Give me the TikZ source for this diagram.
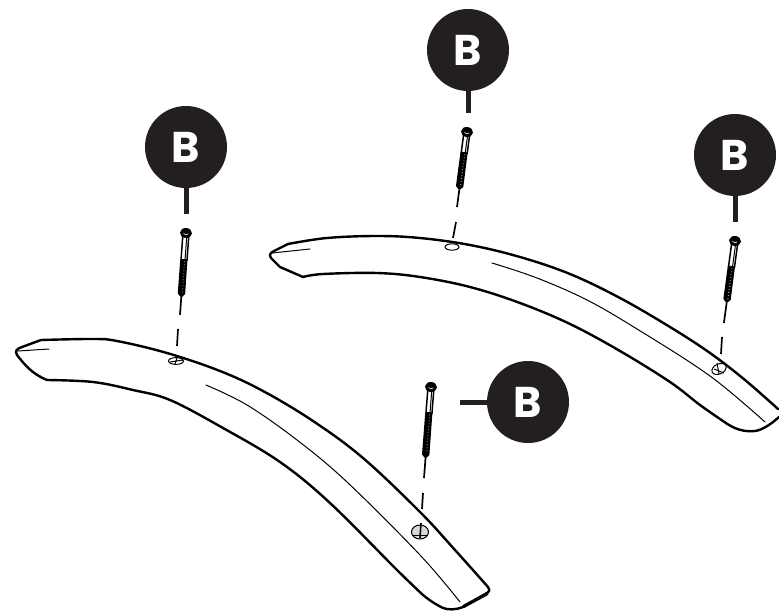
\documentclass[tikz,border=0pt]{standalone}
\usepackage{fontspec}
\newfontfamily\labelfont{Poppins}
\definecolor{ink}{HTML}{231F20}
\tikzset{
  x=1pt,y=-1pt,
  badge/.style={circle,fill=ink,minimum size=82pt,inner sep=0pt,text=white,font=\labelfont\fontsize{43}{43}\selectfont\bfseries},
  stub/.style={ink,line width=5pt},
  outline/.style={black,line width=2.4pt,line join=round,line cap=round},
  thinline/.style={black,line width=1pt,line cap=round},
  guide/.style={black,line width=1.7pt},
  holeline/.style={black,line width=1pt},
}
% #1 head x, #2 head y, #3 length, #4 rotation, #5 thread start, #6 thread end
\newcommand{\screwshape}[6]{%
  \begin{scope}[shift={(#1,#2)},rotate=#4]
    \draw[black,line width=1.5pt,fill=white] (-3,3) -- (-3,#5) -- (3,#5) -- (3,3) -- cycle;
    \draw[black,line width=1pt] (1,4) -- (1,#5);
    \fill[black] (-3.8,#5) -- (3.4,#5) -- (3.6,#6-3) -- (0.8,#6) -- (-0.8,#6) -- (-3.8,#6-3) -- cycle;
    \foreach \yy in {2,5,...,38}{\ifdim\dimexpr#5pt+\yy pt\relax<\dimexpr#6pt-3pt\relax
      \draw[white,line width=0.5pt] (0.2,#5+\yy) -- (1.2,#5+\yy);\fi}
    \draw[black,line width=1.7pt] (0,#6) -- (0,#3);
    \fill[black] (0,0) ellipse (6 and 5);
    \draw[white,line width=0.6pt] (-2.4,0.6) .. controls (-1,2.4) and (1,2.4) .. (2.4,0.6);
  \end{scope}}
\begin{document}
\begin{tikzpicture}
\useasboundingbox (0,0) rectangle (779,613);
% back rail
\draw[outline] plot[smooth,tension=0.6] coordinates {(288,244) (327,238) (377,236) (420,238) (470,245) (520,257) (570,274) (620,298) (670,327) (710,353) (745,380) (778,409)};
\draw[outline] (288,244) -- (274,251) .. controls (270,253) and (269,255) .. (271,258) -- (280,267) -- (303,277);
\draw[outline] plot[smooth,tension=0.6] coordinates {(303,277) (323,274) (377,273) (420,277) (470,287) (520,303) (570,324) (620,351) (670,382) (700,405) (723,421)};
\draw[outline] (723,421) .. controls (735,430) and (745,432) .. (755,431) .. controls (762,430) and (770,425) .. (779,417);
\draw[thinline] (272,253) -- (310,249);
\draw[thinline] plot[smooth,tension=0.6] coordinates {(492,263) (537,278) (587,300) (637,329) (710,376) (765,422)};
% front rail
\draw[outline] plot[smooth,tension=0.6] coordinates {(41,340) (93,339) (117,341) (167,353) (220,371) (263,391) (313,421) (363,458) (420,512) (455,550) (488,587)};
\draw[outline] (488,587) .. controls (490,589) and (490,591) .. (487,593) -- (463,607) .. controls (455,610) and (449,610) .. (443,608) .. controls (435,604) and (429,600) .. (423,595);
\draw[outline] plot[smooth,tension=0.6] coordinates {(423,595) (397,570) (330,503) (280,462) (223,428) (170,400) (133,390) (93,382) (47,380)};
\draw[outline] (41,340) -- (22,347) .. controls (16,349) and (15,351) .. (17,355) .. controls (24,364) and (32,374) .. (47,380);
\draw[thinline] (18,351) -- (49,349);
\draw[thinline] plot[smooth,tension=0.6] coordinates {(206,385) (247,405) (297,440) (347,482) (420,555) (460,602)};
\draw[thinline] (463,605.5) -- (487,592.5);
\draw[thinline] (464,607.5) -- (488,594.5);
% holes
\draw[holeline,fill=white] (176,361) ellipse (7.5 and 3.4);
\draw[holeline] (170,362) -- (183,360) (177,358) -- (175,364);
\draw[holeline,fill=white] (452,247) ellipse (7 and 3.2);
\draw[holeline,fill=white,rotate around={25:(719,369)}] (719,369) ellipse (7.5 and 5);
\draw[holeline] (717,363) -- (719,374) (714,369) -- (724,373);
\draw[holeline,fill=white!85!black] (420,532) ellipse (8.5 and 7);
\draw[black,line width=1.6pt] (421,523) -- (420,538);
\draw[holeline] (413,535) -- (428,535);
% screws
\screwshape{186}{233}{82}{-4.2}{27}{64}
\screwshape{467}{132}{75.7}{-7.6}{21}{58}
\screwshape{735}{241}{82.7}{-7.7}{26}{62}
\screwshape{431}{387}{91.3}{-4.4}{26}{71}
% guide dashes
\coordinate (g1a) at (178,329); \coordinate (g1b) at (177,346);
\coordinate (g2a) at (456,222); \coordinate (g2b) at (453,238);
\coordinate (g3a) at (722,337); \coordinate (g3b) at (721,354);
\coordinate (g4a) at (423,493); \coordinate (g4b) at (422,509);
\draw[guide] (g1a) -- (g1b);
\draw[guide] (g2a) -- (g2b);
\draw[guide] (g3a) -- (g3b);
\draw[guide] (g4a) -- (g4b);
% badges
\node[badge] (b1) at (186,147) {B};
\node[badge] (b2) at (468,50) {B};
\node[badge] (b3) at (735,155) {B};
\node[badge] (b4) at (528,402) {B};
\coordinate (s1) at (186,214);
\coordinate (s2) at (468,113);
\coordinate (s3) at (735,222);
\coordinate (s4) at (460,402);
\draw[stub] (b1.south) -- (s1);
\draw[stub] (b2.south) -- (s2);
\draw[stub] (b3.south) -- (s3);
\draw[stub] (b4.west) -- (s4);
\end{tikzpicture}
\end{document}
